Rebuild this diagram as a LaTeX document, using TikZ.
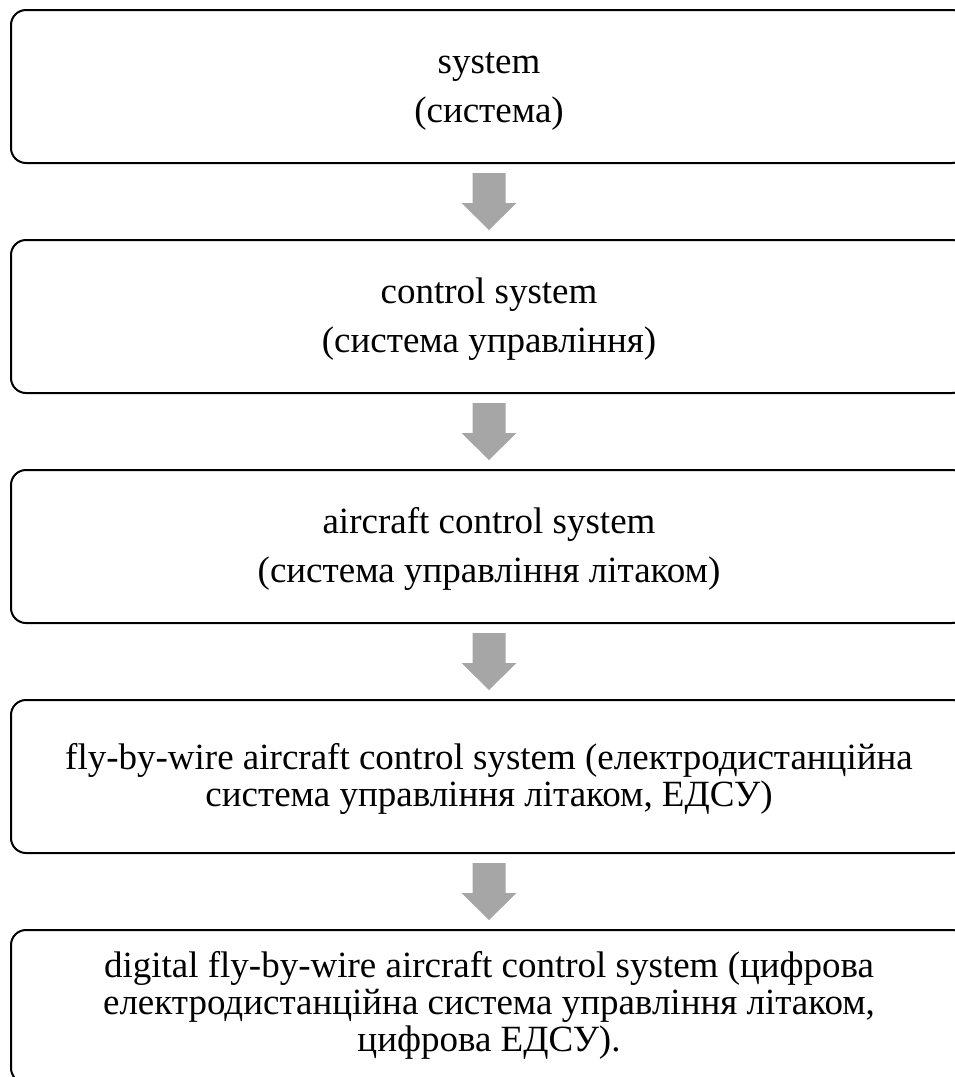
\documentclass[tikz,border=0pt]{standalone}
\usepackage{fontspec}
\setmainfont{Liberation Serif}
\usetikzlibrary{calc}
\definecolor{arrowgray}{HTML}{A6A6A6}
\begin{document}
\begin{tikzpicture}[x=1pt,y=-1pt,
  box/.style={draw=black, line width=2pt, rounded corners=15pt, minimum width=956pt, minimum height=153pt, inner sep=0pt, outer sep=0pt},
  txt/.style={anchor=base, inner sep=0pt, font=\fontsize{37}{37}\selectfont},
  arr/.style={fill=arrowgray, draw=none}]
\useasboundingbox (0,0) rectangle (955,1077);
% boxes
\node[box] (b1) at (489,86.5) {};
\node[box] (b2) at (489,316.5) {};
\node[box] (b3) at (489,546.5) {};
\node[box] (b4) at (489,776.5) {};
\node[box] (b5) at (489,1006.5) {};
% texts
\node[txt] (t1a) at (489,73) {system};
\node[txt] (t1b) at (489,122) {(система)};
\node[txt] (t2a) at (489,303) {control system};
\node[txt] (t2b) at (489,352) {(система управління)};
\node[txt] (t3a) at (489,533) {aircraft control system};
\node[txt] (t3b) at (489,582) {(система управління літаком)};
\node[txt] (t4a) at (489,769) {fly-by-wire aircraft control system (електродистанційна};
\node[txt] (t4b) at (489,806) {система управління літаком, ЕДСУ)};
\node[txt] (t5a) at (489,977) {digital fly-by-wire aircraft control system (цифрова};
\node[txt] (t5b) at (489,1014) {електродистанційна система управління літаком,};
\node[txt] (t5c) at (489,1051) {цифрова ЕДСУ).};
% arrows
\foreach \a/\b in {b1/b2, b2/b3, b3/b4, b4/b5}{
  \fill[arr] ($(\a.south)+(-16.5,10)$) -- ($(\a.south)+(16.5,10)$) -- ($(\a.south)+(16.5,40)$) -- ($(\a.south)+(27.5,40)$) -- ($(\b.north)+(0,-10)$) -- ($(\a.south)+(-27.5,40)$) -- ($(\a.south)+(-16.5,40)$) -- cycle;
}
\end{tikzpicture}
\end{document}
